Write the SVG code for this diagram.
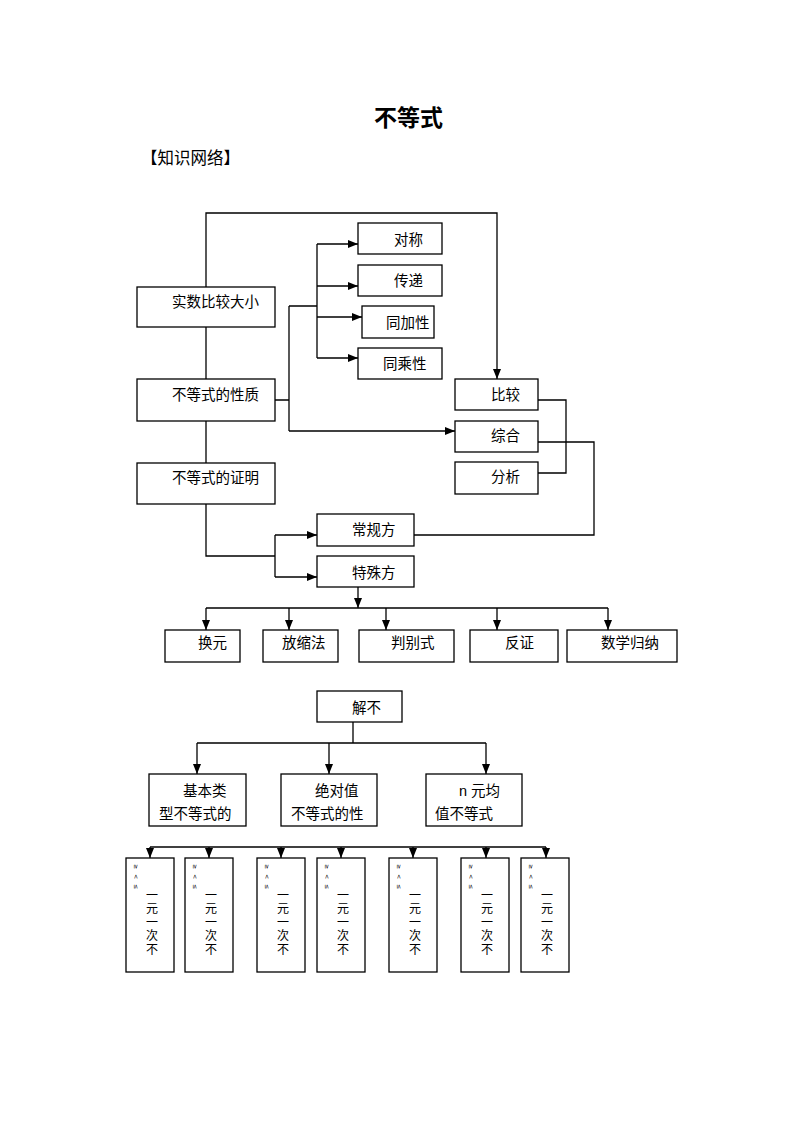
<svg xmlns="http://www.w3.org/2000/svg" width="794" height="1123" viewBox="0 0 794 1123">
<defs>
<marker id="ah" markerUnits="userSpaceOnUse" markerWidth="10" markerHeight="10" viewBox="0 0 10 10" refX="10" refY="5" orient="auto">
<path d="M0,1 L10,5 L0,9 Z" fill="#000"/>
</marker>
<style>
.b{fill:#fff;stroke:#000;stroke-width:1.3}
.t{font-family:"Liberation Sans","Noto Sans CJK SC",sans-serif;font-size:14.5px;fill:#000}
.v{font-family:"Noto Sans CJK SC",sans-serif;font-size:12px;fill:#000;writing-mode:vertical-rl;letter-spacing:1.6px}
.s{font-family:"DejaVu Sans",sans-serif;font-size:6px;fill:#000;writing-mode:vertical-rl;letter-spacing:5px}
.c{fill:none;stroke:#000;stroke-width:1.3}
.a{marker-end:url(#ah)}
</style>
</defs>
<rect width="794" height="1123" fill="#fff"/>
<text x="374" y="126" style="font-family:'Noto Sans CJK SC',sans-serif;font-size:23px;font-weight:bold">不等式</text>
<text x="141" y="164" style="font-family:'Noto Sans CJK SC',sans-serif;font-size:16.5px">【知识网络】</text>

<g id="connectors">
<path class="c a" d="M206,287 V213 H497 V379"/>
<path class="c" d="M206,327 V379 M206,421 V463"/>
<path class="c" d="M275,400 H289 M289,306 V431 M289,306 H317 M317,244 V358"/>
<path class="c a" d="M289,431 H455"/>
<path class="c a" d="M317,244 H358"/>
<path class="c a" d="M317,286 H358"/>
<path class="c a" d="M317,317 H362"/>
<path class="c a" d="M317,358 H358"/>
<path class="c" d="M538,400 H566 V473 H538"/>
<path class="c" d="M538,442 H594 V535 H414"/>
<path class="c" d="M206,504 V556 H275 M275,535 V577"/>
<path class="c a" d="M275,535 H317"/>
<path class="c a" d="M275,577 H317"/>
<path class="c a" d="M358,587 V608"/>
<path class="c" d="M206,608 H608"/>
<path class="c a" d="M206,608 V630"/>
<path class="c a" d="M289,608 V630"/>
<path class="c a" d="M386,608 V630"/>
<path class="c a" d="M497,608 V630"/>
<path class="c a" d="M608,608 V630"/>
<path class="c" d="M353,722 V743 M197,743 H486"/>
<path class="c a" d="M197,743 V774"/>
<path class="c a" d="M329,743 V774"/>
<path class="c a" d="M486,743 V774"/>
<path class="c" d="M150,847 H546"/>
<path class="c a" d="M150,847 V858"/>
<path class="c a" d="M209,847 V858"/>
<path class="c a" d="M281,847 V858"/>
<path class="c a" d="M341,847 V858"/>
<path class="c a" d="M413,847 V858"/>
<path class="c a" d="M486,847 V858"/>
<path class="c a" d="M546,847 V858"/>
</g>

<g id="n-shishu"><rect class="b" x="137" y="287" width="138" height="40"/><text class="t" x="172" y="307">实数比较大小</text></g>
<g id="n-xingzhi"><rect class="b" x="137" y="379" width="138" height="42"/><text class="t" x="172" y="400">不等式的性质</text></g>
<g id="n-zhengming"><rect class="b" x="137" y="463" width="138" height="41"/><text class="t" x="172" y="483">不等式的证明</text></g>
<g id="n-duichen"><rect class="b" x="358" y="223" width="84" height="31"/><text class="t" x="394" y="245">对称</text></g>
<g id="n-chuandi"><rect class="b" x="358" y="265" width="84" height="31"/><text class="t" x="394" y="286">传递</text></g>
<g id="n-tongjia"><rect class="b" x="362" y="306" width="72" height="32"/><text class="t" x="386" y="328">同加性</text></g>
<g id="n-tongcheng"><rect class="b" x="358" y="348" width="84" height="31"/><text class="t" x="383" y="369">同乘性</text></g>
<g id="n-bijiao"><rect class="b" x="455" y="379" width="83" height="31"/><text class="t" x="491" y="400">比较</text></g>
<g id="n-zonghe"><rect class="b" x="455" y="421" width="83" height="31"/><text class="t" x="491" y="441">综合</text></g>
<g id="n-fenxi"><rect class="b" x="455" y="462" width="83" height="32"/><text class="t" x="491" y="482">分析</text></g>
<g id="n-changgui"><rect class="b" x="317" y="514" width="97" height="32"/><text class="t" x="352" y="535">常规方</text></g>
<g id="n-teshu"><rect class="b" x="317" y="556" width="97" height="31"/><text class="t" x="352" y="578">特殊方</text></g>
<g id="n-huanyuan"><rect class="b" x="165" y="630" width="75" height="32"/><text class="t" x="198" y="648">换元</text></g>
<g id="n-fangsuo"><rect class="b" x="263" y="630" width="75" height="32"/><text class="t" x="282" y="648">放缩法</text></g>
<g id="n-panbie"><rect class="b" x="359" y="630" width="95" height="32"/><text class="t" x="391" y="648">判别式</text></g>
<g id="n-fanzheng"><rect class="b" x="470" y="630" width="88" height="32"/><text class="t" x="505" y="648">反证</text></g>
<g id="n-guina"><rect class="b" x="567" y="630" width="110" height="32"/><text class="t" x="601" y="648">数学归纳</text></g>
<g id="n-jiebu"><rect class="b" x="317" y="691" width="85" height="31"/><text class="t" x="352" y="713">解不</text></g>
<g id="n-jiben"><rect class="b" x="149" y="774" width="97" height="52"/><text class="t" x="183" y="796">基本类</text><text class="t" x="159" y="819">型不等式的</text></g>
<g id="n-jueduizhi"><rect class="b" x="281" y="774" width="96" height="52"/><text class="t" x="315" y="796">绝对值</text><text class="t" x="291" y="819">不等式的性</text></g>
<g id="n-junzhi"><rect class="b" x="426" y="774" width="96" height="52"/><text class="t" x="459" y="796">n 元均</text><text class="t" x="435" y="819">值不等式</text></g>

<g id="n-v1"><rect class="b" x="126" y="858" width="48" height="114"/><text class="s" x="136" y="864">≥&lt;≤</text><text class="v" x="152" y="889">一元一次不</text></g>
<g id="n-v2"><rect class="b" x="185" y="858" width="48" height="114"/><text class="s" x="195" y="864">≥&lt;≤</text><text class="v" x="211" y="889">一元一次不</text></g>
<g id="n-v3"><rect class="b" x="257" y="858" width="48" height="114"/><text class="s" x="267" y="864">≥&lt;≤</text><text class="v" x="283" y="889">一元一次不</text></g>
<g id="n-v4"><rect class="b" x="317" y="858" width="48" height="114"/><text class="s" x="327" y="864">≥&lt;≤</text><text class="v" x="343" y="889">一元一次不</text></g>
<g id="n-v5"><rect class="b" x="389" y="858" width="48" height="114"/><text class="s" x="399" y="864">≥&lt;≤</text><text class="v" x="415" y="889">一元一次不</text></g>
<g id="n-v6"><rect class="b" x="461" y="858" width="48" height="114"/><text class="s" x="471" y="864">≥&lt;≤</text><text class="v" x="487" y="889">一元一次不</text></g>
<g id="n-v7"><rect class="b" x="521" y="858" width="48" height="114"/><text class="s" x="531" y="864">≥&lt;≤</text><text class="v" x="547" y="889">一元一次不</text></g>
</svg>
